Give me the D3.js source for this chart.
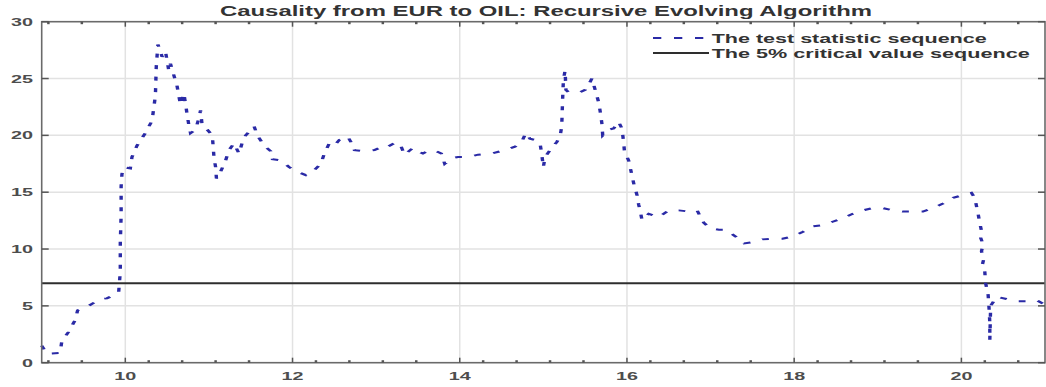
<!DOCTYPE html>
<html>
<head>
<meta charset="utf-8">
<script src="https://cdn.jsdelivr.net/npm/d3@7"></script>
<style>
  body { margin: 0; background: #fff; }
  svg { display: block; }
  text { font-family: Arial, "Liberation Sans", sans-serif; }
</style>
</head>
<body>
<svg id="chart" width="1046" height="387"></svg>
<script>
// Time axis (years, 2-digit) and the recursive-evolving test statistic
const dates = [
  9.00, 9.06, 9.22, 9.24, 9.32, 9.40, 9.43, 9.56, 9.70, 9.78, 9.92,
  9.94, 9.94, 9.95, 9.95, 9.96, 9.98, 10.06, 10.08, 10.14, 10.24, 10.32,
  10.36, 10.37, 10.39, 10.42, 10.44, 10.48, 10.52, 10.54, 10.58, 10.62,
  10.66, 10.70, 10.72, 10.74, 10.76, 10.78, 10.84, 10.88, 10.90, 10.92,
  10.98, 11.04, 11.05, 11.06, 11.08, 11.09, 11.14, 11.20, 11.24, 11.30,
  11.36, 11.40, 11.44, 11.54, 11.58, 11.66, 11.74, 11.76, 11.86, 11.96,
  12.06, 12.16, 12.24, 12.34, 12.38, 12.44, 12.50, 12.56, 12.66, 12.70,
  12.74, 12.86, 12.98, 13.10, 13.14, 13.24, 13.30, 13.34, 13.44, 13.50,
  13.56, 13.64, 13.72, 13.78, 13.82, 13.90, 13.98, 14.10, 14.22, 14.38,
  14.54, 14.66, 14.74, 14.79, 14.84, 14.90, 14.96, 14.98, 15.00, 15.02,
  15.10, 15.16, 15.20, 15.22, 15.23, 15.24, 15.26, 15.27, 15.30, 15.38,
  15.44, 15.50, 15.56, 15.58, 15.62, 15.66, 15.68, 15.70, 15.71, 15.78,
  15.84, 15.90, 15.94, 15.96, 15.97, 16.02, 16.05, 16.08, 16.12, 16.14,
  16.16, 16.18, 16.26, 16.38, 16.50, 16.62, 16.74, 16.84, 16.88, 16.92,
  17.00, 17.10, 17.18, 17.30, 17.40, 17.50, 17.62, 17.74, 17.86, 17.98,
  18.10, 18.22, 18.34, 18.46, 18.58, 18.70, 18.82, 18.94, 19.06, 19.18,
  19.30, 19.42, 19.54, 19.66, 19.78, 19.90, 20.02, 20.12, 20.16, 20.20,
  20.22, 20.24, 20.23, 20.26, 20.24, 20.27, 20.25, 20.28, 20.29, 20.32,
  20.33, 20.34, 20.34, 20.35, 20.42, 20.54, 20.66, 20.78, 20.90, 21.00
];
const testStatistic = [
  1.5, 0.8, 0.85, 1.85, 2.7, 3.75, 4.6, 5.0, 5.6, 5.66, 6.15,
  8.0, 10.5, 13.0, 15.5, 16.6, 17.2, 17.1, 18.1, 19.1, 20.2, 21.3,
  23.5, 26.0, 28.0, 27.4, 26.9, 27.4, 25.7, 26.3, 25.3, 24.3,
  22.7, 23.7, 22.8, 21.8, 20.9, 20.2, 20.5, 21.5, 22.2, 20.8,
  20.5, 20.0, 19.1, 18.1, 17.2, 16.2, 16.8, 17.8, 18.7, 19.3,
  18.4, 19.4, 20.0, 20.8, 20.0, 19.1, 18.6, 17.9, 17.8, 17.2,
  16.8, 16.5, 16.8, 17.5, 18.4, 19.3, 19.1, 19.6, 19.9, 19.4,
  18.7, 18.6, 18.7, 19.1, 19.0, 19.4, 19.0, 18.3, 18.9, 18.6,
  18.4, 18.7, 18.6, 18.4, 17.5, 18.0, 18.1, 18.1, 18.3, 18.4,
  18.7, 19.0, 19.4, 20.2, 19.7, 19.6, 19.3, 18.4, 17.2, 18.1,
  18.9, 19.4, 19.9, 20.8, 23.1, 24.9, 25.7, 24.0, 23.8, 23.75,
  23.8, 24.0, 24.7, 25.0, 24.0, 22.95, 22.1, 21.05, 20.0, 20.5,
  20.6, 21.2, 20.6, 19.4, 18.6, 17.8, 16.8, 15.8, 14.75, 13.9,
  13.3, 12.55, 13.1, 12.8, 13.4, 13.4, 13.3, 13.4, 12.8, 12.3,
  11.8, 11.7, 11.7, 11.1, 10.5, 10.6, 10.85, 10.9, 10.9, 11.1,
  11.5, 12.0, 12.1, 12.4, 12.7, 13.1, 13.4, 13.6, 13.6, 13.4,
  13.3, 13.3, 13.3, 13.6, 14.0, 14.5, 14.75, 14.95, 14.5, 13.1,
  12.3, 11.6, 11.0, 10.4, 9.8, 9.2, 8.6, 8.0, 7.0, 5.95,
  4.9, 3.5, 2.0, 5.0, 5.8, 5.6, 5.4, 5.4, 5.5, 5.1
];
// 5% critical value, constant over the sample
const criticalDates = [9, 21];
const criticalValues = [7, 7];

const xMajorTicks = [10, 12, 14, 16, 18, 20];
const xMinorTicks = [9.08, 9.48, 10.28, 10.68, 11.08, 11.48, 12.28, 12.68, 13.08, 13.48,
  14.28, 14.68, 15.08, 15.48, 16.28, 16.68, 17.08, 17.48, 18.28, 18.68, 19.08, 19.48,
  20.28, 20.68];
const yTicks = [0, 5, 10, 15, 20, 25, 30];
const seriesNames = ["The test statistic sequence", "The 5% critical value sequence"];
const chartTitle = "Causality from EUR to OIL: Recursive Evolving Algorithm";

const svg = d3.select("#chart");
const L = 41.7, R = 1045, T = 21.7, B = 362.7;
const SX = 1.7; // horizontal stretch of the rendered figure

const x = d3.scaleLinear().domain([9, 21]).range([L, R]);
const y = d3.scaleLinear().domain([0, 30]).range([B, T]);
// same x mapping expressed in the unstretched space
const xs = d3.scaleLinear().domain([9, 21]).range([L / SX, R / SX]);

// grid
const grid = svg.append("g").attr("stroke", "#e2e2e2").attr("stroke-width", 1.5);
grid.selectAll("line.h").data(yTicks.filter(v => v > 0 && v < 30)).join("line")
  .attr("x1", L).attr("x2", R).attr("y1", d => y(d)).attr("y2", d => y(d));
grid.selectAll("line.v").data(xMajorTicks).join("line")
  .attr("y1", T).attr("y2", B).attr("x1", d => x(d)).attr("x2", d => x(d));

// critical value line
const critData = criticalDates.map((d, i) => [d, criticalValues[i]]);
svg.append("path").datum(critData)
  .attr("fill", "none").attr("stroke", "#2e2e2e").attr("stroke-width", 2)
  .attr("d", d3.line().x(d => x(d[0])).y(d => y(d[1])));

// test statistic (dashed), drawn in unstretched space then stretched
const statData = dates.map((d, i) => [d, testStatistic[i]]);
svg.append("g").attr("transform", `scale(${SX},1)`)
  .append("path").datum(statData)
  .attr("fill", "none").attr("stroke", "#2a2aa6").attr("stroke-width", 2)
  .attr("stroke-dasharray", "4,7.5")
  .attr("d", d3.line().x(d => xs(d[0])).y(d => y(d[1])));

// frame
svg.append("rect").attr("x", L).attr("y", T).attr("width", R - L).attr("height", B - T)
  .attr("fill", "none").attr("stroke", "#6a6a6a").attr("stroke-width", 1.6);

// ticks
const ticks = svg.append("g").attr("stroke", "#555");
ticks.selectAll("line.xb").data(xMajorTicks).join("line")
  .attr("stroke-width", 1.5)
  .attr("x1", d => x(d)).attr("x2", d => x(d)).attr("y1", B).attr("y2", B - 5);
ticks.selectAll("line.xt").data(xMajorTicks).join("line")
  .attr("stroke-width", 1.5)
  .attr("x1", d => x(d)).attr("x2", d => x(d)).attr("y1", T).attr("y2", T + 5);
ticks.selectAll("line.mb").data(xMinorTicks).join("line")
  .attr("stroke-width", 2.5)
  .attr("x1", d => x(d)).attr("x2", d => x(d)).attr("y1", B).attr("y2", B - 2.5);
ticks.selectAll("line.mt").data(xMinorTicks).join("line")
  .attr("stroke-width", 2.5)
  .attr("x1", d => x(d)).attr("x2", d => x(d)).attr("y1", T).attr("y2", T + 2.5);
ticks.selectAll("line.yl").data(yTicks).join("line")
  .attr("stroke-width", 1.5)
  .attr("y1", d => y(d)).attr("y2", d => y(d)).attr("x1", L).attr("x2", L + 7);
ticks.selectAll("line.yr").data(yTicks).join("line")
  .attr("stroke-width", 1.5)
  .attr("y1", d => y(d)).attr("y2", d => y(d)).attr("x1", R).attr("x2", R - 7);

// tick labels
const labelStyle = sel => sel.attr("font-size", 11).attr("font-weight", "bold")
  .attr("fill", "#4d4d4d").attr("lengthAdjust", "spacingAndGlyphs")
  .attr("textLength", d => String(d).length * 11);
svg.append("g").selectAll("text").data(xMajorTicks).join("text")
  .attr("x", d => x(d)).attr("y", 380).attr("text-anchor", "middle")
  .text(d => d).call(labelStyle);
svg.append("g").selectAll("text").data(yTicks).join("text")
  .attr("x", 33).attr("y", d => y(d) + 4).attr("text-anchor", "end")
  .text(d => d).call(labelStyle);

// title
svg.append("text").attr("x", 546).attr("y", 15.5).attr("text-anchor", "middle")
  .attr("font-size", 14).attr("font-weight", "bold").attr("fill", "#333")
  .attr("textLength", 652).attr("lengthAdjust", "spacingAndGlyphs")
  .text(chartTitle);

// legend
const legend = svg.append("g");
const legendRows = [
  { name: seriesNames[0], y: 38, color: "#2a2aa6", dash: "8.3,12.7", len: 275 },
  { name: seriesNames[1], y: 53, color: "#2e2e2e", dash: null, len: 318 }
];
legendRows.forEach(r => {
  legend.append("line").attr("x1", 653).attr("x2", 709).attr("y1", r.y).attr("y2", r.y)
    .attr("stroke", r.color).attr("stroke-width", 2)
    .attr("stroke-dasharray", r.dash);
  legend.append("text").attr("x", 711.7).attr("y", r.y + 4.5)
    .attr("font-size", 12).attr("font-weight", "bold").attr("fill", "#333")
    .attr("textLength", r.len).attr("lengthAdjust", "spacingAndGlyphs")
    .text(r.name);
});
</script>
</body>
</html>
